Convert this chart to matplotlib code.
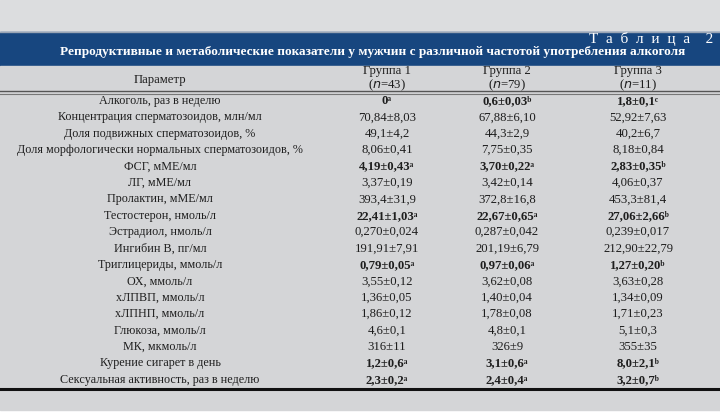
import matplotlib
matplotlib.use("Agg")
import matplotlib.pyplot as plt
from matplotlib.patches import Rectangle

plt.rcParams['font.family'] = ['Liberation Serif', 'DejaVu Serif']

# table content
title_num = "Т  а  б  л  и  ц  а    2"
title = "Репродуктивные и метаболические показатели у мужчин с различной частотой употребления алкоголя"
col_head = ["Параметр", "Группа 1\n($n$=43)", "Группа 2\n($n$=79)", "Группа 3\n($n$=11)"]
params = [
    "Алкоголь, раз в неделю",
    "Концентрация сперматозоидов, млн/мл",
    "Доля подвижных сперматозоидов, %",
    "Доля морфологически нормальных сперматозоидов, %",
    "ФСГ, мМЕ/мл",
    "ЛГ, мМЕ/мл",
    "Пролактин, мМЕ/мл",
    "Тестостерон, нмоль/л",
    "Эстрадиол, нмоль/л",
    "Ингибин В, пг/мл",
    "Триглицериды, ммоль/л",
    "ОХ, ммоль/л",
    "хЛПВП, ммоль/л",
    "хЛПНП, ммоль/л",
    "Глюкоза, ммоль/л",
    "МК, мкмоль/л",
    "Курение сигарет в день",
    "Сексуальная активность, раз в неделю",
]
group1 = ["0ᵃ", "70,84±8,03", "49,1±4,2", "8,06±0,41", "4,19±0,43ᵃ", "3,37±0,19",
          "393,4±31,9", "22,41±1,03ᵃ", "0,270±0,024", "191,91±7,91", "0,79±0,05ᵃ",
          "3,55±0,12", "1,36±0,05", "1,86±0,12", "4,6±0,1", "316±11", "1,2±0,6ᵃ", "2,3±0,2ᵃ"]
group2 = ["0,6±0,03ᵇ", "67,88±6,10", "44,3±2,9", "7,75±0,35", "3,70±0,22ᵃ", "3,42±0,14",
          "372,8±16,8", "22,67±0,65ᵃ", "0,287±0,042", "201,19±6,79", "0,97±0,06ᵃ",
          "3,62±0,08", "1,40±0,04", "1,78±0,08", "4,8±0,1", "326±9", "3,1±0,6ᵃ", "2,4±0,4ᵃ"]
group3 = ["1,8±0,1ᶜ", "52,92±7,63", "40,2±6,7", "8,18±0,84", "2,83±0,35ᵇ", "4,06±0,37",
          "453,3±81,4", "27,06±2,66ᵇ", "0,239±0,017", "212,90±22,79", "1,27±0,20ᵇ",
          "3,63±0,28", "1,34±0,09", "1,71±0,23", "5,1±0,3", "355±35", "8,0±2,1ᵇ", "3,2±0,7ᵇ"]
bold_rows = [0, 4, 7, 10, 16, 17]

W, H = 720, 413
fig = plt.figure(figsize=(W / 100, H / 100), dpi=100)
ax = fig.add_axes([0, 0, 1, 1])
ax.set_xlim(0, W)
ax.set_ylim(H, 0)
ax.axis('off')

grey = '#d4d5d7'
ax.add_patch(Rectangle((0, 0), W, H, color='white'))
ax.add_patch(Rectangle((0, 0), W, 32, color='#dcdddf'))
ax.add_patch(Rectangle((0, 32), W, 34, color='#17467f'))
ax.add_patch(Rectangle((0, 66), W, 344, color=grey))
ax.plot([0, W], [32, 32], color='#9aa5b5', lw=1)

ax.text(713, 39, title_num, color='white', fontsize=11, ha='right', va='center')
ax.text(373, 52.5, title, color='white', fontsize=9.5, fontweight='bold', ha='center', va='center')

col_x = [160, 387, 507, 638]
ax.text(col_x[0], 80, col_head[0], fontsize=9.2, ha='center', va='center', color='#1e1e1e')
for x, h in zip(col_x[1:], col_head[1:]):
    ax.text(x, 79, h, fontsize=9.2, ha='center', va='center', color='#1e1e1e', linespacing=1.1)

# double rule under header
ax.plot([0, W], [91, 91], color='#555555', lw=1.0)
ax.plot([0, W], [93.5, 93.5], color='#777777', lw=0.8)

y0, dy = 101, 16.4
for i, p in enumerate(params):
    y = y0 + i * dy
    w = 'bold' if i in bold_rows else 'normal'
    ax.text(col_x[0], y, p, fontsize=8.75, ha='center', va='center', color='#1e1e1e')
    for x, col in zip(col_x[1:], [group1, group2, group3]):
        ax.text(x, y, col[i], fontsize=9.2, ha='center', va='center', color='#1e1e1e',
                fontweight=w, family=['Liberation Serif', 'DejaVu Serif'])

ax.plot([0, W], [388.5, 388.5], color='#111111', lw=2.2)

fig.savefig('out.png', dpi=100)
